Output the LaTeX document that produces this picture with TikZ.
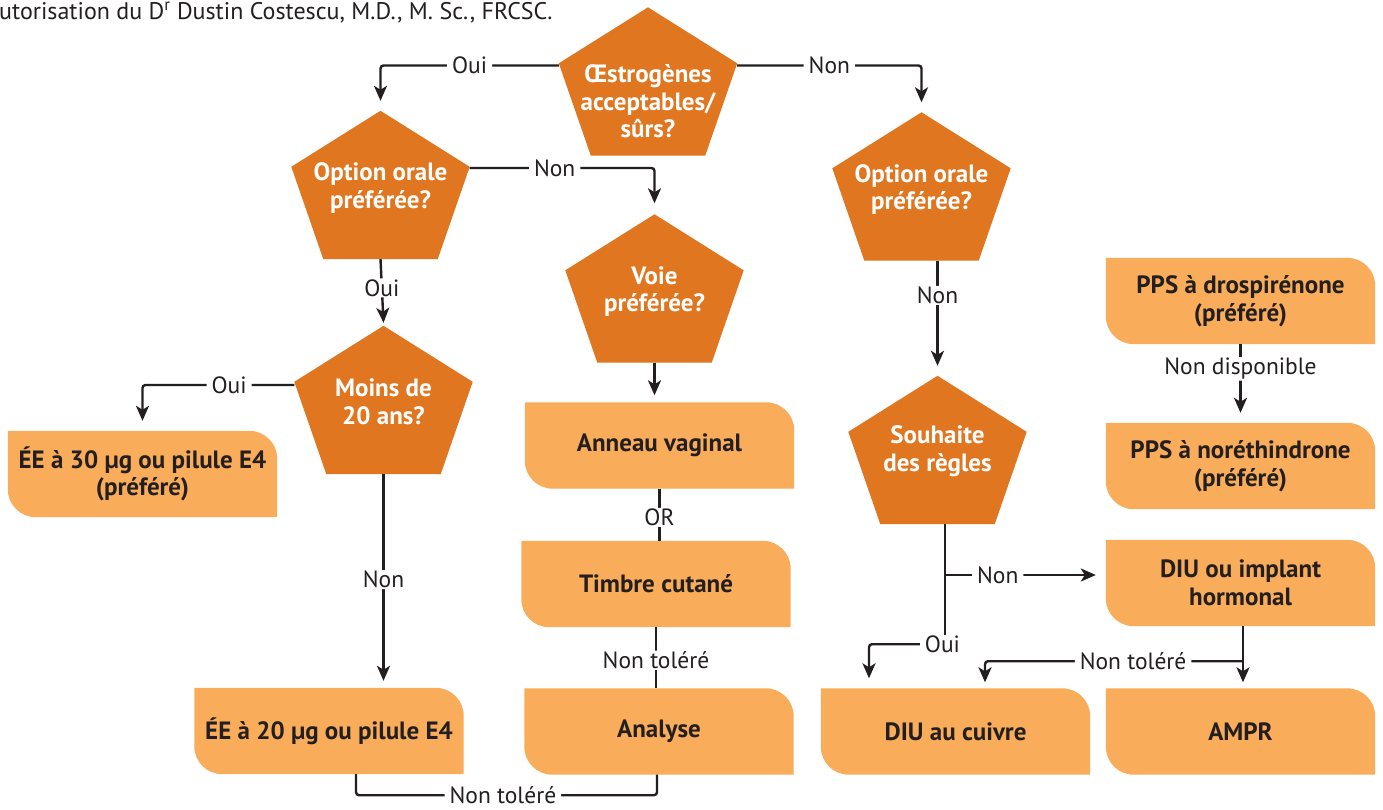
\documentclass[tikz,border=0pt]{standalone}
\usepackage{fontspec}
\setmainfont{PT Sans}
\usetikzlibrary{arrows.meta,calc}
\definecolor{pentc}{HTML}{E0761F}
\definecolor{boxc}{HTML}{F9AC59}
\definecolor{ink}{HTML}{231F20}
\newcommand\lblfont{\fontsize{23.5}{27}\selectfont}
\newcommand\hdrfont{\fontsize{24}{27}\selectfont}
\newcommand\bxfont{\fontsize{25}{27.5}\selectfont\bfseries}
\tikzset{
 conn/.style={line width=2.4pt, draw=ink, rounded corners=3pt},
 arr/.style={conn, -{Stealth[length=15pt,width=13pt,inset=4pt]}},
 lbl/.style={fill=white, text=ink, font=\lblfont, inner xsep=5pt, inner ysep=1pt},
 pentshape/.style={rectangle, minimum width=178pt, minimum height=148pt, inner sep=0pt},
 boxshape/.style={rectangle, minimum width=269pt, minimum height=86pt, inner sep=0pt},
 ptext/.style={text=white, font=\bxfont, align=center, inner sep=0pt},
 btext/.style={text=ink, font=\bxfont, align=center, inner sep=0pt},
}
\newcommand\mkpent[4]{%
 \node[pentshape] (#1) at (#2) {};
 \fill[pentc] (#1.north) -- ([yshift=-56pt]#1.north east) -- ([xshift=-32pt]#1.south east) -- ([xshift=32pt]#1.south west) -- ([yshift=-56pt]#1.north west) -- cycle;
 \node[ptext] (#1t) at ([yshift=#4]#1.center) {#3};}
\newcommand\mkbox[3]{%
 \node[boxshape] (#1) at (#2) {};
 \fill[boxc] (#1.north west) -- ([xshift=-28pt]#1.north east) .. controls ([xshift=-12.5pt]#1.north east) and ([yshift=-12.5pt]#1.north east) .. ([yshift=-28pt]#1.north east) -- (#1.south east) -- ([xshift=28pt]#1.south west) .. controls ([xshift=12.5pt]#1.south west) and ([yshift=12.5pt]#1.south west) .. ([yshift=28pt]#1.south west) -- cycle;
 \node[btext] (#1t) at (#1.center) {#3};}
\begin{document}
\begin{tikzpicture}[x=1pt,y=-1pt]
\useasboundingbox (0,0) rectangle (1383,809);
\fill[white] (0,0) rectangle (1383,809);
\node[anchor=base west, font=\hdrfont, text=ink, inner sep=0pt] (hdr) at (-1,19.5) {utorisation du D\textsuperscript{r} Dustin Costescu, M.D., M. Sc., FRCSC.};
\mkpent{p1}{648,81.5}{Œstrogènes\\acceptables/\\sûrs?}{-20pt}
\mkpent{p2}{380.5,185}{Option orale\\préférée?}{-3pt}
\mkpent{p3}{654.5,288.5}{Voie\\préférée?}{-3pt}
\mkpent{p4}{921.5,186.5}{Option orale\\préférée?}{-3pt}
\mkpent{p5}{383.5,400}{Moins de\\20 ans?}{-2pt}
\mkpent{p6}{937.5,450}{Souhaite\\des règles}{-1pt}
\mkbox{e30}{142.5,474}{ÉE à 30 µg ou pilule E4\\(préféré)}
\mkbox{an}{659.5,445.5}{Anneau vaginal}
\mkbox{tc}{656,584}{Timbre cutané}
\mkbox{e20}{329,731}{ÉE à 20 µg ou pilule E4}
\mkbox{ana}{659,731.5}{Analyse}
\mkbox{dcu}{955.5,731.5}{DIU au cuivre}
\mkbox{ampr}{1240.5,731.5}{AMPR}
\mkbox{dim}{1240.5,583}{DIU ou implant\\hormonal}
\mkbox{ppd}{1240.5,301}{PPS à drospirénone\\(préféré)}
\mkbox{ppn}{1240.5,466}{PPS à noréthindrone\\(préféré)}
% connectors
\draw[arr] ([yshift=16pt]p1.west) -| ([yshift=10pt]p2.north) node[lbl,pos=0.25]{Oui};
\draw[arr] ([yshift=16pt]p1.east) -| ([yshift=10pt]p4.north) node[lbl,pos=0.25]{Non};
\draw[arr] ([yshift=17pt]p2.east) -| ([yshift=11pt]p3.north) node[lbl,pos=0.23]{Non};
\draw[arr] (p2.south) -- ([yshift=3pt]p5.north) node[lbl,pos=0.45]{Oui};
\draw[arr] ([yshift=15pt]p5.west) -| ([yshift=10pt]e30.north) node[lbl,pos=0.215]{Oui};
\draw[arr] (p5.south) -- ($(p5.south |- e20.north)+(0,-7)$) node[lbl,pos=0.51]{Non};
\draw[arr] (p3.south) -- ($(p3.south |- an.north)+(0,-7)$);
\draw[conn] (an.south) -- (an.south |- tc.north) node[lbl,pos=0.55]{OR};
\draw[conn] (tc.south) -- (tc.south |- ana.north) node[lbl,pos=0.54]{Non toléré};
\draw[conn] ([xshift=27pt]e20.south) -- ++(0,21) -| ([xshift=-2pt]ana.south) node[lbl,pos=0.244]{Non toléré};
\draw[arr] (p4.south -| p6.north) -- ([yshift=10pt]p6.north) node[lbl,pos=0.33]{Non};
\coordinate (s6) at ($(p6.south)+(7.5,0)$);
\node[lbl] (oui6) at ($(p6.south)+(5,120)$) {Oui};
\draw[conn] (s6) -- (s6 |- oui6.north);
\draw[arr] (oui6.west) -| ($(dcu.north)+(-86.5,-10)$);
\coordinate (nb) at ($(s6 |- dim.west)+(0,-8)$);
\draw[arr] (nb) -- ($(dim.west)+(-10,-8)$) node[lbl,pos=0.35]{Non};
\draw[arr] ([xshift=2.5pt]dim.south) -- ($(ampr.north)+(2.5,-6)$);
\coordinate (nt) at ($(dim.south)+(2.5,35)$);
\draw[arr] (nt) -| ($(dcu.north)+(29.5,-6)$) node[lbl,pos=0.213]{Non toléré};
\draw[arr] (ppd.south) -- ([yshift=10pt]ppn.north) node[lbl,pos=0.36]{Non disponible};
\end{tikzpicture}
\end{document}
